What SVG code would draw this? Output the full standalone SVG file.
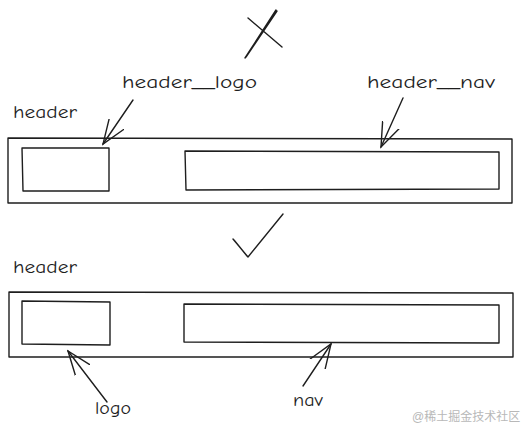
<svg xmlns="http://www.w3.org/2000/svg" width="524" height="436" viewBox="0 0 524 436">
<style>
.box{fill:none;stroke:#1e1e1e;stroke-width:1.4;stroke-linejoin:round}
.ln{fill:none;stroke:#1e1e1e;stroke-width:1.4;stroke-linecap:round;stroke-linejoin:round}
.lbl{font-family:"Comic Neue","Liberation Sans",sans-serif;font-size:18px;fill:#1e1e1e}
.wm{font-family:"Liberation Sans","Noto Sans CJK SC",sans-serif;font-size:12px;fill:#b8b8b8}
</style>
<defs>
<marker id="ah" viewBox="0 0 26 22" refX="24" refY="11" markerWidth="26" markerHeight="22" markerUnits="userSpaceOnUse" orient="auto">
<path d="M0,2 L24,11 L0,20" fill="none" stroke="#1e1e1e" stroke-width="1.4" stroke-linecap="round"/>
</marker>
</defs>
<rect width="524" height="436" fill="#ffffff"/>

<g id="cross">
<path class="ln" d="M248,18 L282,47 M276,10 L245,58 M277,11 L246,57"/>
</g>

<g id="top-header">
<text class="lbl" x="13" y="118" textLength="64" lengthAdjust="spacingAndGlyphs">header</text>
<path class="box" d="M8,138 L512,139 L512,203 L8,203 Z"/>
</g>
<g id="top-logo">
<path class="box" d="M22,148 L109,148 L109,191 L23,191 Z"/>
<text class="lbl" x="122" y="88" textLength="135" lengthAdjust="spacingAndGlyphs">header__logo</text>
</g>
<g id="top-nav">
<path class="box" d="M185,151 L499,152 L499,189 L186,190 Z"/>
<text class="lbl" x="367" y="88" textLength="128" lengthAdjust="spacingAndGlyphs">header__nav</text>
</g>

<g id="check">
<path class="ln" d="M233,239 L248,257 L283,214 M234,240 L247,256"/>
</g>

<g id="bottom-header">
<text class="lbl" x="13" y="273" textLength="64" lengthAdjust="spacingAndGlyphs">header</text>
<path class="box" d="M9,292 L513,293 L513,357 L9,357 Z"/>
</g>
<g id="bottom-logo">
<path class="box" d="M22,301 L110,302 L110,345 L22,344 Z"/>
<text class="lbl" x="95" y="414" textLength="36" lengthAdjust="spacingAndGlyphs">logo</text>
</g>
<g id="bottom-nav">
<path class="box" d="M184,304 L499,305 L499,343 L184,342 Z"/>
<text class="lbl" x="293" y="406" textLength="30" lengthAdjust="spacingAndGlyphs">nav</text>
</g>

<g id="connectors">
<path class="ln" d="M133,100 L103,144" marker-end="url(#ah)"/>
<path class="ln" d="M403,98 L381,147" marker-end="url(#ah)"/>
<path class="ln" d="M107,402 L68,351" marker-end="url(#ah)"/>
<path class="ln" d="M303,386 L331,344" marker-end="url(#ah)"/>
</g>

<text class="wm" x="412" y="421">@稀土掘金技术社区</text>
</svg>
